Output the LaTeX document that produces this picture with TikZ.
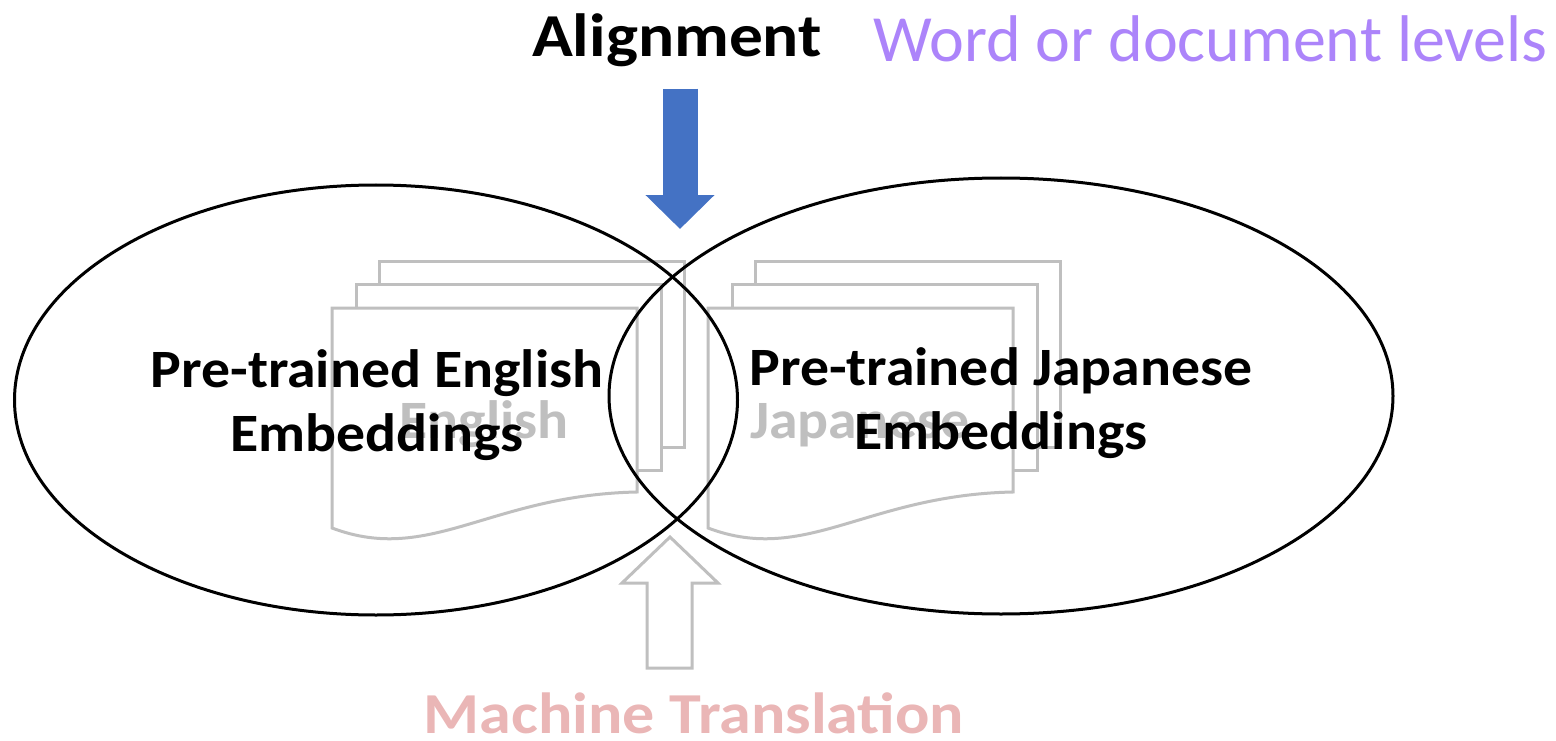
\documentclass[tikz,border=0pt]{standalone}
\usepackage{fontspec}
\setmainfont{Carlito}
\newfontfamily\labfont[FakeStretch=1.07]{Carlito}
\newfontfamily\headfont[FakeStretch=1.105]{Carlito}
\usetikzlibrary{shapes.geometric,arrows.meta,positioning}

\definecolor{docgray}{RGB}{191,191,191}
\definecolor{alignblue}{RGB}{68,114,196}
\definecolor{levelpurple}{RGB}{172,132,250}
\definecolor{mtpink}{RGB}{234,182,182}

\begin{document}
\begin{tikzpicture}[x=1pt,y=-1pt,
  ring/.style={ellipse,draw=black,line width=3pt,inner sep=0pt},
  page/.style={draw=docgray,line width=3pt,fill=white},
  lab/.style={font=\labfont\fontsize{54}{64}\selectfont\bfseries,align=center,inner sep=0pt},
  doctext/.style={font=\labfont\fontsize{54}{64}\selectfont\bfseries,text=docgray,inner sep=0pt},
  head/.style={font=\headfont\fontsize{#1}{70}\selectfont\bfseries,inner sep=0pt},
  head/.default=61,
  hollow/.style={draw=docgray,line width=3pt}]
 \useasboundingbox (0,0) rectangle (1556,741);

 % two stacks of pages
 \foreach \dx/\word/\nm in {0/English/endoc,376/Japanese/jadoc}{
   \foreach \o in {47,24}
     \draw[page] (332+\dx+\o,308-\o) rectangle ++(305,186);
   \draw[page] (332+\dx,308) -- (637+\dx,308) -- (637+\dx,492)
     .. controls (490+\dx,495) and (430+\dx,565) .. (332+\dx,528) -- cycle;
   \node[doctext,anchor=base] (\nm) at (484+\dx,438) {\word};
 }

 \node[ring,minimum width=723pt,minimum height=430pt] (en) at (376,400) {};
 \node[ring,minimum width=784pt,minimum height=436pt] (ja) at (1001,396) {};

 \node[lab] (enlab) at (377,405) {Pre-trained English\\Embeddings};
 \node[lab] (jalab) at (1001,403) {Pre-trained Japanese\\Embeddings};

 % top: alignment
 \node[head,anchor=base] (align) at (677,57) {Alignment};
 \node[font=\fontsize{66}{70}\selectfont,text=levelpurple,anchor=base west,inner sep=0pt]
   (levels) at (873,62) {Word or document levels};
 \coordinate (meettop) at (680,229);
 \draw[alignblue,line width=35pt,-{Triangle[width=67pt,length=34pt]},shorten <=21pt]
   (align.south -| meettop) -- (meettop);

 % bottom: machine translation
 \coordinate (meetlow) at (670,537);
 \draw[hollow] (meetlow) -- ++(48,46) -- ++(-26,0) -- ++(0,85) -- ++(-45,0)
   -- ++(0,-85) -- ++(-25,0) -- cycle;
 \node[head=58,text=mtpink,anchor=base] (mt) at (694,733) {Machine Translation};

\end{tikzpicture}
\end{document}
